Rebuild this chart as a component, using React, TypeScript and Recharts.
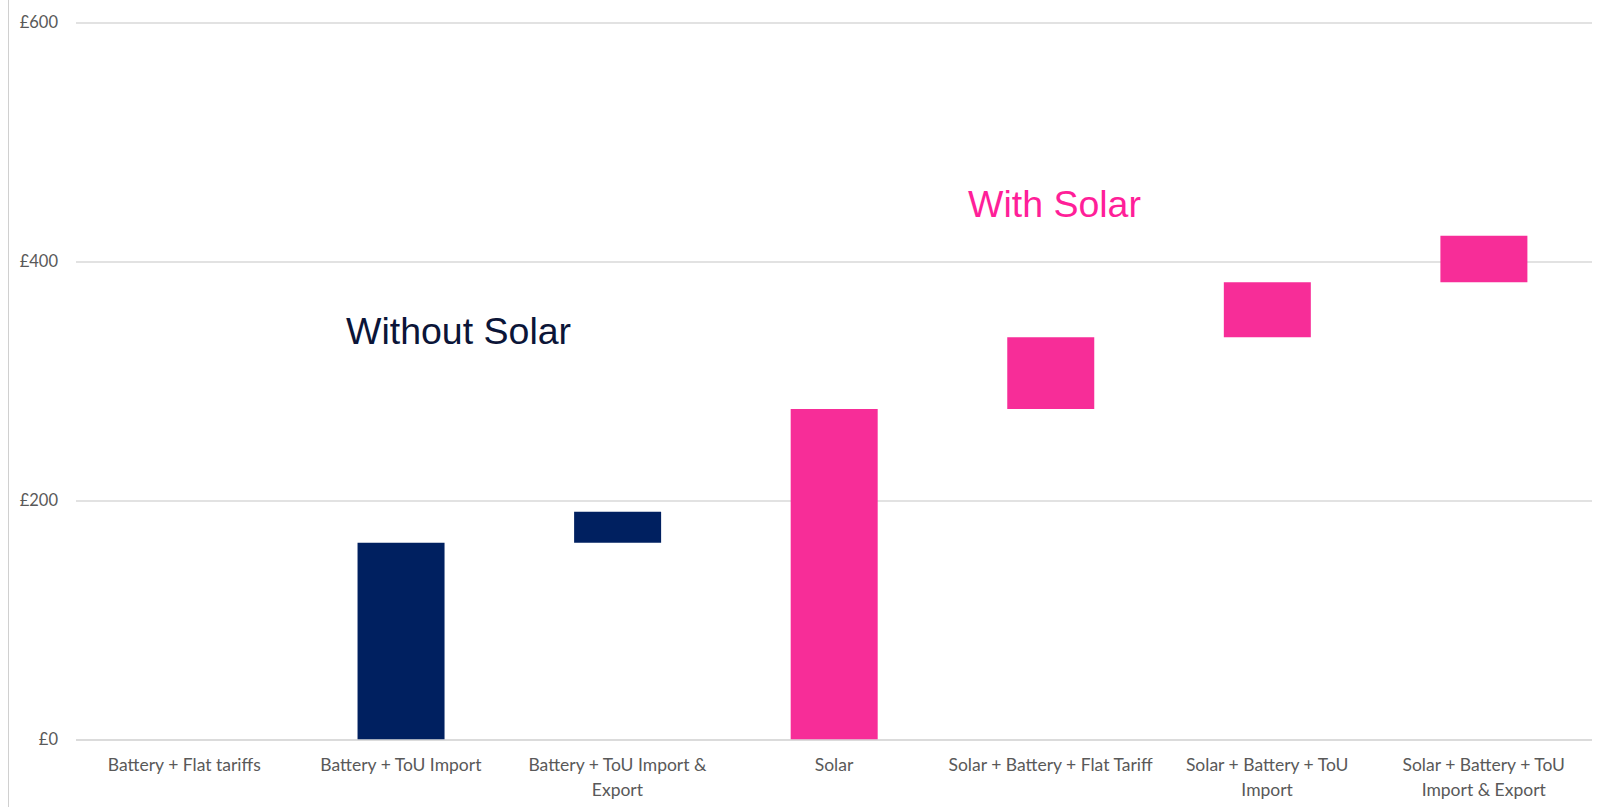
import { BarChart, Bar, XAxis, YAxis, CartesianGrid, Cell } from 'recharts';

const categories = [
  'Battery + Flat tariffs',
  'Battery + ToU Import',
  'Battery + ToU Import & Export',
  'Solar',
  'Solar + Battery + Flat Tariff',
  'Solar + Battery + ToU Import',
  'Solar + Battery + ToU Import & Export',
];

// how each category label wraps under the axis
const categoryLines = [
  ['Battery + Flat tariffs'],
  ['Battery + ToU Import'],
  ['Battery + ToU Import &', 'Export'],
  ['Solar'],
  ['Solar + Battery + Flat Tariff'],
  ['Solar + Battery + ToU', 'Import'],
  ['Solar + Battery + ToU', 'Import & Export'],
];

// invisible offset under each floating bar
const baseValues = [0, 0, 165, 0, 277, 337, 383];
// visible step of each bar
const stepValues = [0, 165, 26, 277, 60, 46, 39];

const groups = ['without', 'without', 'without', 'with', 'with', 'with', 'with'];

const yTicks = [0, 200, 400, 600];

const NAVY = '#002060';
const PINK = '#F72D98';
const LABEL_FONT = 'Lato, "Open Sans", sans-serif';

const data = categories.map((name, i) => ({
  name,
  base: baseValues[i],
  step: stepValues[i],
  group: groups[i],
}));

const CategoryTick = (props: any) => {
  const { x, y, index } = props;
  const lines = categoryLines[index] || [props.payload.value];
  return (
    <text
      x={x}
      y={y + 23}
      textAnchor="middle"
      fill="#595959"
      fontSize={17.5}
      fontFamily={LABEL_FONT}
    >
      {lines.map((line: string, i: number) => (
        <tspan key={i} x={x} dy={i === 0 ? 0 : 24.5}>
          {line}
        </tspan>
      ))}
    </text>
  );
};

const MoneyTick = (props: any) => {
  const { x, y, payload } = props;
  return (
    <text
      x={x}
      y={y}
      dy={5}
      textAnchor="end"
      fill="#595959"
      fontSize={16.5}
      fontFamily={LABEL_FONT}
    >
      {`£${payload.value}`}
    </text>
  );
};

export default function App() {
  return (
    <div
      style={{
        position: 'absolute',
        left: 0,
        top: 0,
        width: 1598,
        height: 807,
        background: '#fff',
        overflow: 'hidden',
      }}
    >
      <div
        style={{
          position: 'absolute',
          left: 8,
          top: 0,
          width: 0,
          height: 807,
          borderLeft: '1px solid #d0d0d0',
        }}
      />
      <BarChart
        width={1598}
        height={807}
        data={data}
        margin={{ top: 23, right: 6, left: 0, bottom: 0 }}
        barCategoryGap="30%"
      >
        <CartesianGrid horizontal vertical={false} stroke="#d9d9d9" strokeWidth={1.5} />
        <XAxis
          dataKey="name"
          height={67}
          interval={0}
          axisLine={{ stroke: '#d9d9d9', strokeWidth: 1.5 }}
          tickLine={false}
          tick={<CategoryTick />}
        />
        <YAxis
          width={76}
          domain={[0, 600]}
          ticks={yTicks}
          axisLine={false}
          tickLine={false}
          tickMargin={12}
          tick={<MoneyTick />}
        />
        <Bar dataKey="base" stackId="w" fill="transparent" isAnimationActive={false} />
        <Bar dataKey="step" stackId="w" isAnimationActive={false}>
          {data.map((d) => (
            <Cell key={d.name} fill={d.group === 'with' ? PINK : NAVY} />
          ))}
        </Bar>
      </BarChart>
      <div
        style={{
          position: 'absolute',
          left: 346,
          top: 313,
          fontFamily: '"Liberation Sans", Arial, sans-serif',
          fontSize: 37.5,
          lineHeight: '37.5px',
          color: '#0B1538',
          whiteSpace: 'nowrap',
        }}
      >
        Without Solar
      </div>
      <div
        style={{
          position: 'absolute',
          left: 968,
          top: 186,
          fontFamily: '"Liberation Sans", Arial, sans-serif',
          fontSize: 37.5,
          lineHeight: '37.5px',
          color: '#FF1F99',
          whiteSpace: 'nowrap',
        }}
      >
        With Solar
      </div>
    </div>
  );
}
